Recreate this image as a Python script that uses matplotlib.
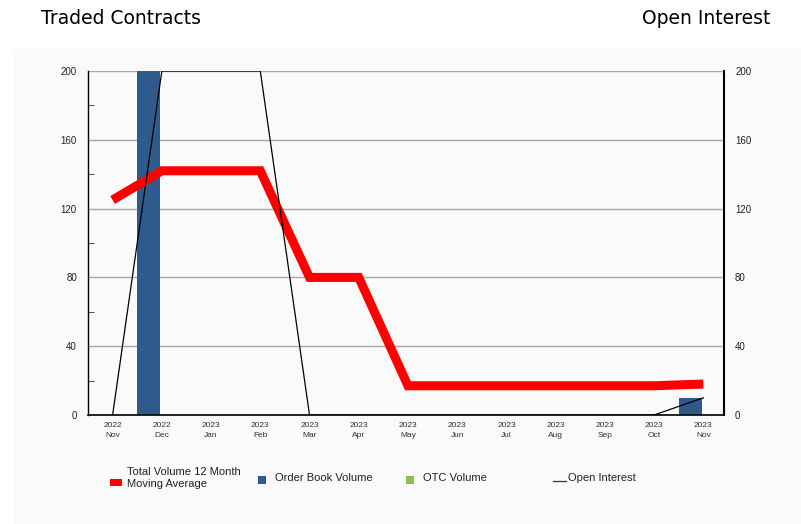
import matplotlib
matplotlib.use('Agg')
from matplotlib import pyplot as plt
from matplotlib.patches import Rectangle
from matplotlib.lines import Line2D
from matplotlib.ticker import MultipleLocator

years = ['2022', '2022', '2023', '2023', '2023', '2023', '2023',
         '2023', '2023', '2023', '2023', '2023', '2023']
months = ['Nov', 'Dec', 'Jan', 'Feb', 'Mar', 'Apr', 'May',
          'Jun', 'Jul', 'Aug', 'Sep', 'Oct', 'Nov']
order_book = [0, 200, 0, 0, 0, 0, 0, 0, 0, 0, 0, 0, 10]
otc = [0, 0, 0, 0, 0, 0, 0, 0, 0, 0, 0, 0, 0]
moving_avg = [125, 142, 142, 142, 80, 80, 17, 17, 17, 17, 17, 17, 18]
open_interest = [0, 200, 200, 200, 0, 0, 0, 0, 0, 0, 0, 0, 10]

bg = '#fafafa'
fig = plt.figure(figsize=(8.01, 5.24), dpi=100)
fig.patch.set_facecolor('white')
fig.add_artist(Rectangle((13 / 801, 0), 1, 1 - 49 / 524, transform=fig.transFigure,
                         facecolor=bg, edgecolor='none', zorder=-10))

ax = fig.add_axes([88 / 801, 109 / 524, 636 / 801, 344 / 524])
ax.set_facecolor(bg)
x = list(range(len(months)))

ax.bar([i - 0.5 for i in x], order_book, width=0.47, align='edge', color='#2f5b8c', zorder=2)
ax.bar([i - 0.03 for i in x], otc, width=0.47, align='edge', color='#8bc34a', zorder=2)
ax.plot(x, moving_avg, color='#ff0000', lw=6.5, solid_joinstyle='miter',
        solid_capstyle='butt', zorder=3)

ax.set_xlim(-0.5, 12.42)
ax.set_ylim(0, 200)
ax.yaxis.set_major_locator(MultipleLocator(40))
ax.yaxis.set_minor_locator(MultipleLocator(20))
ax.grid(axis='y', color='#a8a8a8', lw=1, zorder=1)
ax.set_xticks(x)
ax.set_xticklabels([y + '\n' + m for y, m in zip(years, months)], fontsize=6,
                   family='Liberation Sans', color='#333333', linespacing=1.55)
ax.tick_params(axis='x', length=0, pad=5)
ax.tick_params(axis='y', which='major', length=0, labelsize=7, pad=8, labelcolor='#222222')
ax.tick_params(axis='y', which='minor', length=4, direction='in', color='#333333')
for lbl in ax.get_yticklabels():
    lbl.set_family('Liberation Sans')
for s in ['top', 'right']:
    ax.spines[s].set_visible(False)
ax.spines['left'].set_linewidth(1)
ax.spines['bottom'].set_linewidth(1.2)

ax2 = ax.twinx()
ax2.plot(x, open_interest, color='black', lw=0.9, zorder=4)
ax2.set_ylim(0, 200)
ax2.yaxis.set_major_locator(MultipleLocator(40))
ax2.tick_params(axis='y', length=0, labelsize=7, pad=8, labelcolor='#222222')
for lbl in ax2.get_yticklabels():
    lbl.set_family('Liberation Sans')
for s in ['top', 'left', 'bottom']:
    ax2.spines[s].set_visible(False)
ax2.spines['right'].set_linewidth(1.5)

fig.text(41 / 801, 1 - 18 / 524, 'Traded Contracts', fontsize=13.5, va='center', ha='left')
fig.text(770 / 801, 1 - 18 / 524, 'Open Interest', fontsize=13.5, va='center', ha='right')

# legend
lf = dict(fontsize=8, family='Liberation Sans', color='#222222', va='center', ha='left')
fig.add_artist(Rectangle((110 / 801, 1 - 486 / 524), 12 / 801, 7 / 524,
                         transform=fig.transFigure, facecolor='#ff0000', edgecolor='none'))
fig.text(127 / 801, 1 - 478 / 524, 'Total Volume 12 Month\nMoving Average', linespacing=1.3, **lf)
fig.add_artist(Rectangle((258 / 801, 1 - 484 / 524), 8 / 801, 8 / 524,
                         transform=fig.transFigure, facecolor='#2f5b8c', edgecolor='none'))
fig.text(275 / 801, 1 - 478 / 524, 'Order Book Volume', **lf)
fig.add_artist(Rectangle((406 / 801, 1 - 484 / 524), 8 / 801, 8 / 524,
                         transform=fig.transFigure, facecolor='#8bc34a', edgecolor='none'))
fig.text(423 / 801, 1 - 478 / 524, 'OTC Volume', **lf)
fig.add_artist(Line2D([553 / 801, 566 / 801], [1 - 481 / 524, 1 - 481 / 524],
                      transform=fig.transFigure, color='#333333', lw=0.9))
fig.text(568 / 801, 1 - 478 / 524, 'Open Interest', **lf)

fig.savefig('out.png', dpi=100, facecolor=fig.get_facecolor())
